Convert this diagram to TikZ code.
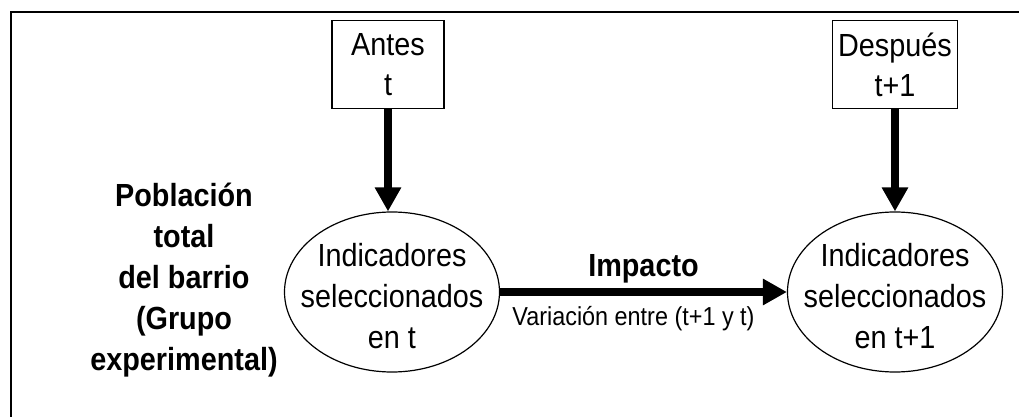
\documentclass[tikz,border=0pt]{standalone}
\usepackage{fontspec}
\setmainfont{Liberation Sans}[FakeStretch=0.9]
\usetikzlibrary{shapes,arrows.meta,positioning}

\begin{document}
\begin{tikzpicture}[x=0.5pt, y=-0.5pt, node distance=51pt, auto]
        % Define block styles
        \tikzstyle{block} = [rectangle, draw, line width=0.6pt, minimum width=56pt, minimum height=44pt, inner sep=3pt, align=center, font=\fontsize{16pt}{20pt}\selectfont]
        \tikzstyle{bubble} = [ellipse, draw, line width=0.6pt, minimum width=107.5pt, minimum height=80pt, inner sep=0pt]
        \tikzstyle{bubbletext} = [align=center, yshift=-2pt, font=\fontsize{16pt}{20.5pt}\selectfont]
        \tikzstyle{group} = [align=center, font=\bfseries\fontsize{16pt}{20.5pt}\selectfont]
        \tikzstyle{line} = [draw, line width=4pt, -{Triangle[width=12.5pt,length=12pt]}]

        \useasboundingbox (0,0) rectangle (1019,417);

        % Frame
        \draw [line width=1pt] (1019,12) -- (11,12) -- (11,417);

        % Nodes
        \node [bubble, label={[bubbletext]center:Indicadores\\seleccionados\\en t}] (Ind_t) at (392,292) {};
        \node [bubble, label={[bubbletext]center:Indicadores\\seleccionados\\en t+1}] (Ind_t1) at (895,292) {};
        \node [block, above=of Ind_t, xshift=-2pt] (Antes) {Antes\\t};
        \node [block, above=of Ind_t1] (Despues) {Después\\t+1};
        \node [group] (Poblacion) at (184,280) {Población\\total\\del barrio\\(Grupo\\experimental)};

        % Arrows
        \path [line] (Antes.south) -- (Antes.south |- Ind_t.north);
        \path [line] (Despues.south) -- (Despues.south |- Ind_t1.north);
        \path [line] (Ind_t.east) -- node [above=-1pt, font=\bfseries\fontsize{16pt}{17pt}\selectfont] (Impacto) {Impacto}
                node [below=2pt, xshift=-5pt, font=\fontsize{13pt}{15pt}\selectfont] (Variacion) {Variación entre (t+1 y t)} (Ind_t1.west);
    \end{tikzpicture}
\end{document}
